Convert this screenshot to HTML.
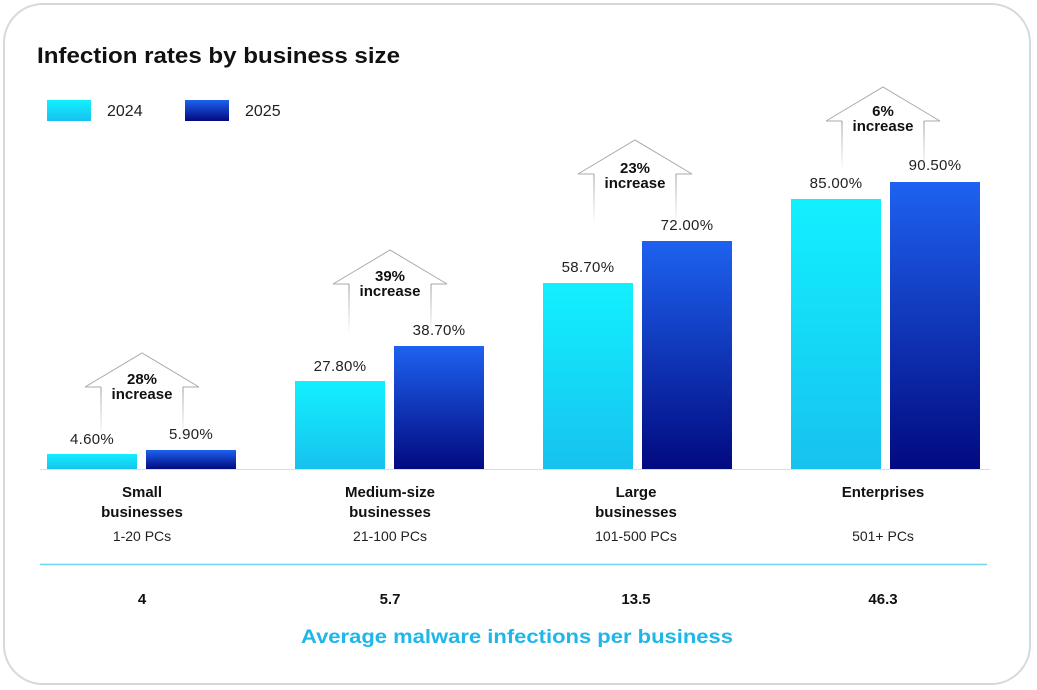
<!DOCTYPE html>
<html><head><style>
body{margin:0;width:1037px;height:690px;background:#fff;font-family:"Liberation Sans",sans-serif;overflow:hidden}
.card{position:absolute;left:3px;top:3px;width:1028px;height:682px;border:2px solid #d6d8da;border-radius:40px;box-sizing:border-box;background:#fff}
</style></head><body>
<div class="card"></div>
<svg width="1037" height="690" style="position:absolute;left:0;top:0" font-family="Liberation Sans, sans-serif">
<defs>
<linearGradient id="c" x1="0" y1="0" x2="0" y2="1"><stop offset="0" stop-color="#12f0ff"/><stop offset="1" stop-color="#17c2ee"/></linearGradient>
<linearGradient id="b" x1="0" y1="0" x2="0" y2="1"><stop offset="0" stop-color="#1e62f0"/><stop offset="1" stop-color="#020a80"/></linearGradient>
<linearGradient id="f" x1="0" y1="0" x2="0" y2="1"><stop offset="0" stop-color="#999"/><stop offset="1" stop-color="#999" stop-opacity="0"/></linearGradient>
</defs>
<text x="37" y="63" font-size="22" font-weight="bold" fill="#111" textLength="363" lengthAdjust="spacingAndGlyphs">Infection rates by business size</text>
<rect x="47" y="100" width="44" height="21" fill="url(#c)"/><text x="107" y="116" font-size="16" fill="#222">2024</text>
<rect x="185" y="100" width="44" height="21" fill="url(#b)"/><text x="245" y="116" font-size="16" fill="#222">2025</text>
<line x1="40" y1="469.5" x2="990" y2="469.5" stroke="#ddd"/>
<rect x="47" y="454" width="90" height="15" fill="url(#c)"/><rect x="146" y="450" width="90" height="19" fill="url(#b)"/>
<rect x="295" y="381" width="90" height="88" fill="url(#c)"/><rect x="394" y="346" width="90" height="123" fill="url(#b)"/>
<rect x="543" y="283" width="90" height="186" fill="url(#c)"/><rect x="642" y="241" width="90" height="228" fill="url(#b)"/>
<rect x="791" y="199" width="90" height="270" fill="url(#c)"/><rect x="890" y="182" width="90" height="287" fill="url(#b)"/>
<g font-size="15" fill="#222" text-anchor="middle" letter-spacing="0.3">
<text x="92" y="444">4.60%</text><text x="191" y="439">5.90%</text>
<text x="340" y="371">27.80%</text><text x="439" y="335">38.70%</text>
<text x="588" y="272">58.70%</text><text x="687" y="230">72.00%</text>
<text x="836" y="188">85.00%</text><text x="935" y="170">90.50%</text>
</g>
<g fill="none" stroke-width="1">
<g transform="translate(142,353)"><path d="M-57,34 L0,0 L57,34" stroke="#aaa"/><path d="M-57,34H-41M57,34H41" stroke="#aaa"/><rect x="-41.5" y="34" width="1" height="50" fill="url(#f)" stroke="none"/><rect x="40.5" y="34" width="1" height="50" fill="url(#f)" stroke="none"/></g>
<g transform="translate(390,250)"><path d="M-57,34 L0,0 L57,34" stroke="#aaa"/><path d="M-57,34H-41M57,34H41" stroke="#aaa"/><rect x="-41.5" y="34" width="1" height="50" fill="url(#f)" stroke="none"/><rect x="40.5" y="34" width="1" height="50" fill="url(#f)" stroke="none"/></g>
<g transform="translate(635,140)"><path d="M-57,34 L0,0 L57,34" stroke="#aaa"/><path d="M-57,34H-41M57,34H41" stroke="#aaa"/><rect x="-41.5" y="34" width="1" height="50" fill="url(#f)" stroke="none"/><rect x="40.5" y="34" width="1" height="50" fill="url(#f)" stroke="none"/></g>
<g transform="translate(883,87)"><path d="M-57,34 L0,0 L57,34" stroke="#aaa"/><path d="M-57,34H-41M57,34H41" stroke="#aaa"/><rect x="-41.5" y="34" width="1" height="50" fill="url(#f)" stroke="none"/><rect x="40.5" y="34" width="1" height="50" fill="url(#f)" stroke="none"/></g>
</g>
<g font-size="15" font-weight="bold" fill="#111" text-anchor="middle">
<text x="142" y="384">28%</text><text x="142" y="399">increase</text>
<text x="390" y="281">39%</text><text x="390" y="296">increase</text>
<text x="635" y="173">23%</text><text x="635" y="188">increase</text>
<text x="883" y="116">6%</text><text x="883" y="131">increase</text>
</g>
<g font-size="15" font-weight="bold" fill="#111" text-anchor="middle">
<text x="142" y="497">Small</text><text x="142" y="517">businesses</text>
<text x="390" y="497">Medium-size</text><text x="390" y="517">businesses</text>
<text x="636" y="497">Large</text><text x="636" y="517">businesses</text>
<text x="883" y="497">Enterprises</text>
</g>
<g font-size="14" fill="#222" text-anchor="middle">
<text x="142" y="541">1-20 PCs</text><text x="390" y="541">21-100 PCs</text><text x="636" y="541">101-500 PCs</text><text x="883" y="541">501+ PCs</text>
</g>
<line x1="40" y1="564.5" x2="987" y2="564.5" stroke="#6fd6ee" stroke-width="1.5"/>
<g font-size="15" font-weight="bold" fill="#111" text-anchor="middle">
<text x="142" y="604">4</text><text x="390" y="604">5.7</text><text x="636" y="604">13.5</text><text x="883" y="604">46.3</text>
</g>
<text x="301" y="643" font-size="19" font-weight="bold" fill="#1fb6e8" textLength="432" lengthAdjust="spacingAndGlyphs">Average malware infections per business</text>
</svg>
</body></html>
